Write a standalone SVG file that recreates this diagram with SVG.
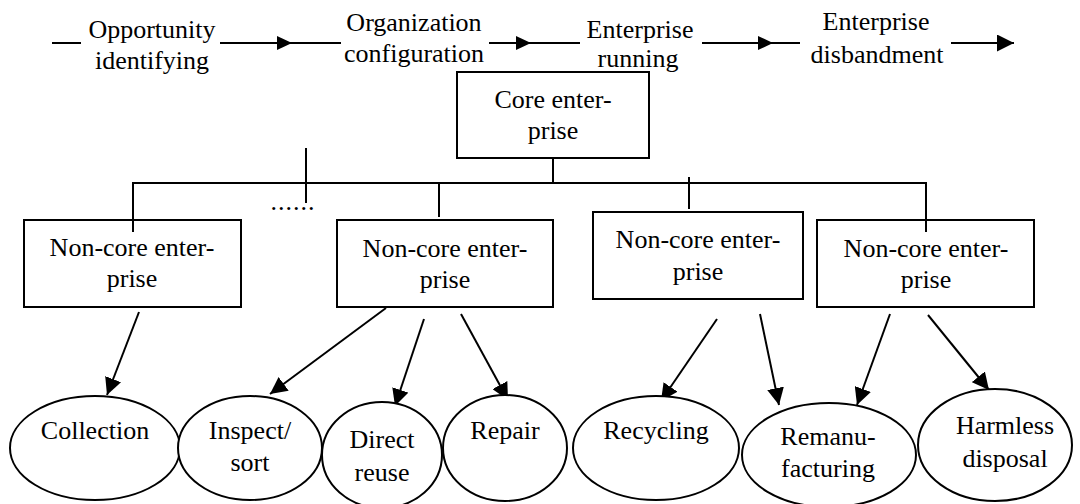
<svg xmlns="http://www.w3.org/2000/svg" width="1080" height="504" viewBox="0 0 1080 504">
  <defs>
    <marker id="head" markerUnits="userSpaceOnUse" markerWidth="17" markerHeight="17" viewBox="0 0 17 17" refX="17" refY="8.5" orient="auto">
      <path d="M0,0 L17,8.5 L0,17 Z" fill="#000"/>
    </marker>
    <path id="mid" d="M0,-7 L15,0 L0,7 Z" fill="#000"/>
  </defs>

  <g id="stages">
    <text x="152" y="38" text-anchor="middle" style="font-family: 'Liberation Serif', serif; font-size: 26px">Opportunity</text>
    <text x="152" y="69" text-anchor="middle" style="font-family: 'Liberation Serif', serif; font-size: 26px">identifying</text>
    <text x="414" y="31" text-anchor="middle" style="font-family: 'Liberation Serif', serif; font-size: 26px">Organization</text>
    <text x="414" y="62" text-anchor="middle" style="font-family: 'Liberation Serif', serif; font-size: 26px">configuration</text>
    <text x="640" y="38" text-anchor="middle" style="font-family: 'Liberation Serif', serif; font-size: 26px">Enterprise</text>
    <text x="638" y="67" text-anchor="middle" style="font-family: 'Liberation Serif', serif; font-size: 26px">running</text>
    <text x="876" y="30" text-anchor="middle" style="font-family: 'Liberation Serif', serif; font-size: 26px">Enterprise</text>
    <text x="877" y="63" text-anchor="middle" style="font-family: 'Liberation Serif', serif; font-size: 26px">disbandment</text>
  </g>

  <g id="stage-arrows" stroke="#000" stroke-width="2" fill="none">
    <line x1="52" y1="43" x2="81" y2="43"/>
    <line x1="220" y1="43" x2="341" y2="43"/>
    <line x1="489" y1="43" x2="580" y2="43"/>
    <line x1="702" y1="43" x2="800" y2="43"/>
    <line x1="951" y1="43" x2="1014" y2="43" marker-end="url(#head)"/>
    <use href="#mid" x="277" y="43" stroke="none"/>
    <use href="#mid" x="516" y="43" stroke="none"/>
    <use href="#mid" x="758" y="43" stroke="none"/>
  </g>

  <g id="connectors" stroke="#000" stroke-width="2" fill="none">
    <line x1="553" y1="158" x2="553" y2="183"/>
    <polyline points="133,232 133,183 926,183 926,232"/>
    <line x1="306" y1="148" x2="306" y2="203"/>
    <line x1="439" y1="183" x2="439" y2="217"/>
    <line x1="689" y1="177" x2="689" y2="209"/>
    <g marker-end="url(#head)">
      <line x1="139" y1="312" x2="107" y2="395"/>
      <line x1="386" y1="308" x2="270" y2="394"/>
      <line x1="424" y1="319" x2="395" y2="406"/>
      <line x1="461" y1="314" x2="508" y2="400"/>
      <line x1="717" y1="319" x2="661" y2="401"/>
      <line x1="760" y1="314" x2="779" y2="405"/>
      <line x1="890" y1="314" x2="857" y2="405"/>
      <line x1="928" y1="315" x2="989" y2="390"/>
    </g>
  </g>

  <text id="ellipsis" x="293" y="210" text-anchor="middle" style="font-family: 'Liberation Serif', serif; font-size: 26px; letter-spacing: 1px">......</text>

  <g id="core">
    <rect x="457" y="72" width="192" height="86" fill="#fff" stroke="#000" stroke-width="2"/>
    <text x="553" y="108" text-anchor="middle" style="font-family: 'Liberation Serif', serif; font-size: 26px">Core enter-</text>
    <text x="553" y="139" text-anchor="middle" style="font-family: 'Liberation Serif', serif; font-size: 26px">prise</text>
  </g>

  <g id="noncore-1">
    <rect x="24" y="220" width="217" height="87" fill="#fff" stroke="#000" stroke-width="2"/>
    <line x1="133" y1="220" x2="133" y2="232" stroke="#000" stroke-width="2"/>
    <text x="132" y="256" text-anchor="middle" style="font-family: 'Liberation Serif', serif; font-size: 26px">Non-core enter-</text>
    <text x="132" y="287" text-anchor="middle" style="font-family: 'Liberation Serif', serif; font-size: 26px">prise</text>
  </g>

  <g id="noncore-2">
    <rect x="337" y="220" width="216" height="87" fill="#fff" stroke="#000" stroke-width="2"/>
    <text x="445" y="257" text-anchor="middle" style="font-family: 'Liberation Serif', serif; font-size: 26px">Non-core enter-</text>
    <text x="445" y="288" text-anchor="middle" style="font-family: 'Liberation Serif', serif; font-size: 26px">prise</text>
  </g>

  <g id="noncore-3">
    <rect x="593" y="212" width="210" height="87" fill="#fff" stroke="#000" stroke-width="2"/>
    <text x="698" y="248" text-anchor="middle" style="font-family: 'Liberation Serif', serif; font-size: 26px">Non-core enter-</text>
    <text x="698" y="280" text-anchor="middle" style="font-family: 'Liberation Serif', serif; font-size: 26px">prise</text>
  </g>

  <g id="noncore-4">
    <rect x="817" y="220" width="217" height="87" fill="#fff" stroke="#000" stroke-width="2"/>
    <line x1="926" y1="220" x2="926" y2="232" stroke="#000" stroke-width="2"/>
    <text x="926" y="257" text-anchor="middle" style="font-family: 'Liberation Serif', serif; font-size: 26px">Non-core enter-</text>
    <text x="926" y="288" text-anchor="middle" style="font-family: 'Liberation Serif', serif; font-size: 26px">prise</text>
  </g>

  <g id="collection">
    <ellipse cx="95" cy="448" rx="85" ry="52" fill="#fff" stroke="#000" stroke-width="2"/>
    <text x="95" y="439" text-anchor="middle" style="font-family: 'Liberation Serif', serif; font-size: 26px">Collection</text>
  </g>

  <g id="inspect">
    <ellipse cx="250" cy="448" rx="72" ry="52" fill="#fff" stroke="#000" stroke-width="2"/>
    <text x="250" y="439" text-anchor="middle" style="font-family: 'Liberation Serif', serif; font-size: 26px">Inspect/</text>
    <text x="250" y="471" text-anchor="middle" style="font-family: 'Liberation Serif', serif; font-size: 26px">sort</text>
  </g>

  <g id="reuse">
    <ellipse cx="382" cy="455" rx="60" ry="53" fill="#fff" stroke="#000" stroke-width="2"/>
    <text x="382" y="448" text-anchor="middle" style="font-family: 'Liberation Serif', serif; font-size: 26px">Direct</text>
    <text x="382" y="481" text-anchor="middle" style="font-family: 'Liberation Serif', serif; font-size: 26px">reuse</text>
  </g>

  <g id="repair">
    <ellipse cx="505" cy="448" rx="62" ry="53" fill="#fff" stroke="#000" stroke-width="2"/>
    <text x="505" y="439" text-anchor="middle" style="font-family: 'Liberation Serif', serif; font-size: 26px">Repair</text>
  </g>

  <g id="recycling">
    <ellipse cx="656" cy="448" rx="83" ry="52" fill="#fff" stroke="#000" stroke-width="2"/>
    <text x="656" y="439" text-anchor="middle" style="font-family: 'Liberation Serif', serif; font-size: 26px">Recycling</text>
  </g>

  <g id="remanufacturing">
    <ellipse cx="829" cy="455" rx="87" ry="52" fill="#fff" stroke="#000" stroke-width="2"/>
    <text x="828" y="445" text-anchor="middle" style="font-family: 'Liberation Serif', serif; font-size: 26px">Remanu-</text>
    <text x="828" y="477" text-anchor="middle" style="font-family: 'Liberation Serif', serif; font-size: 26px">facturing</text>
  </g>

  <g id="disposal">
    <ellipse cx="995" cy="445" rx="77" ry="56" fill="#fff" stroke="#000" stroke-width="2"/>
    <text x="1005" y="434" text-anchor="middle" style="font-family: 'Liberation Serif', serif; font-size: 26px">Harmless</text>
    <text x="1005" y="467" text-anchor="middle" style="font-family: 'Liberation Serif', serif; font-size: 26px">disposal</text>
  </g>
</svg>
